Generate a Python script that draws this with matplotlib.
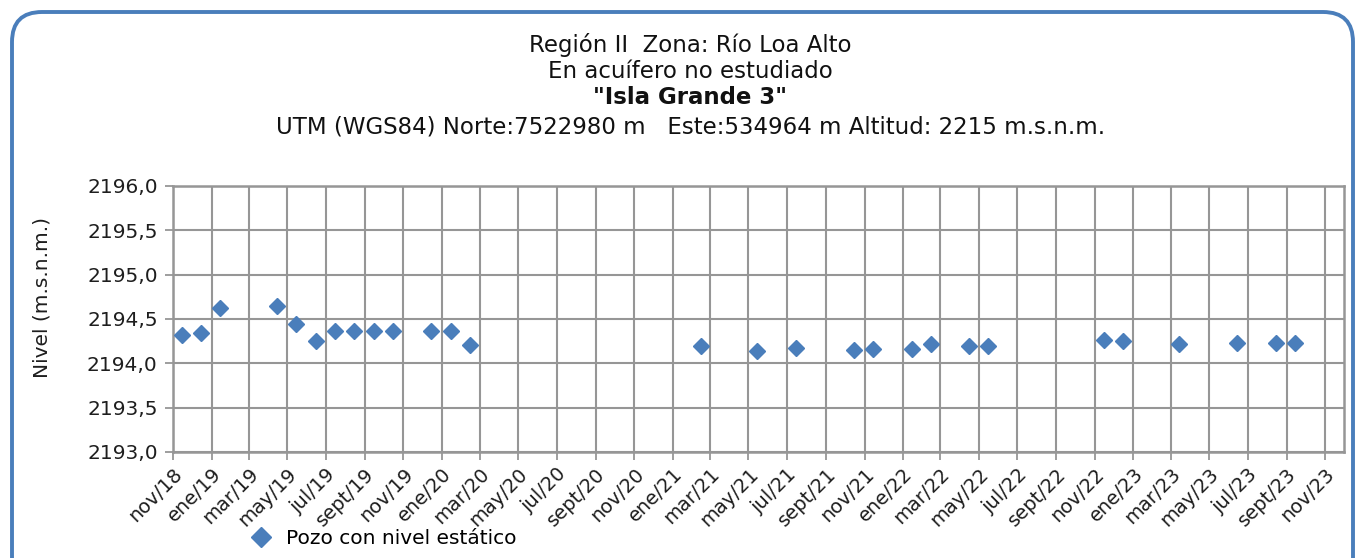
"""Nivel estático, pozo "Isla Grande 3" (Región II, Río Loa Alto)."""

import matplotlib

matplotlib.use("Agg")
import matplotlib.dates as mdates  # noqa: E402
import matplotlib.patches as mpatches  # noqa: E402
import matplotlib.pyplot as plt  # noqa: E402

FECHAS = [
    "2018-11-15", "2018-12-15", "2019-01-15", "2019-04-15", "2019-05-15",
    "2019-06-15", "2019-07-15", "2019-08-15", "2019-09-15", "2019-10-15",
    "2019-12-15", "2020-01-15", "2020-02-15", "2021-02-15", "2021-05-15",
    "2021-07-15", "2021-10-15", "2021-11-15", "2022-01-15", "2022-02-15",
    "2022-04-15", "2022-05-15", "2022-11-15", "2022-12-15", "2023-03-15",
    "2023-06-15", "2023-08-15", "2023-09-15",
]
NIVEL = [
    2194.32, 2194.34, 2194.62, 2194.65, 2194.44,
    2194.25, 2194.36, 2194.37, 2194.36, 2194.36,
    2194.37, 2194.36, 2194.21, 2194.20, 2194.14,
    2194.17, 2194.15, 2194.16, 2194.16, 2194.22,
    2194.20, 2194.20, 2194.26, 2194.25, 2194.22,
    2194.23, 2194.23, 2194.23,
]
TICK_FECHAS = [
    "2018-11-01", "2019-01-01", "2019-03-01", "2019-05-01", "2019-07-01",
    "2019-09-01", "2019-11-01", "2020-01-01", "2020-03-01", "2020-05-01",
    "2020-07-01", "2020-09-01", "2020-11-01", "2021-01-01", "2021-03-01",
    "2021-05-01", "2021-07-01", "2021-09-01", "2021-11-01", "2022-01-01",
    "2022-03-01", "2022-05-01", "2022-07-01", "2022-09-01", "2022-11-01",
    "2023-01-01", "2023-03-01", "2023-05-01", "2023-07-01", "2023-09-01",
    "2023-11-01",
]
TICK_LABELS = [
    "nov/18", "ene/19", "mar/19", "may/19", "jul/19", "sept/19", "nov/19",
    "ene/20", "mar/20", "may/20", "jul/20", "sept/20", "nov/20", "ene/21",
    "mar/21", "may/21", "jul/21", "sept/21", "nov/21", "ene/22", "mar/22",
    "may/22", "jul/22", "sept/22", "nov/22", "ene/23", "mar/23", "may/23",
    "jul/23", "sept/23", "nov/23",
]
Y_TICKS = [2193.0, 2193.5, 2194.0, 2194.5, 2195.0, 2195.5, 2196.0]
TITULO = [
    "Región II  Zona: Río Loa Alto",
    "En acuífero no estudiado",
    '"Isla Grande 3"',
    "UTM (WGS84) Norte:7522980 m   Este:534964 m Altitud: 2215 m.s.n.m.",
]

AZUL = "#4a7ebb"
GRIS = "#969696"
TXT = "#1e1e1e"

fig = plt.figure(figsize=(13.56, 5.58), dpi=100)

# marco redondeado exterior (en pulgadas)
fig.patches.append(
    mpatches.FancyBboxPatch(
        (0.12, -1.0), 13.41, 6.46,
        boxstyle="round,pad=0,rounding_size=0.3",
        transform=fig.dpi_scale_trans, fill=False, edgecolor=AZUL, lw=2.8,
    )
)

ax = fig.add_axes([0.1276, 0.19, 0.8636, 0.4767])
x = mdates.datestr2num(FECHAS)
ax.plot(x, NIVEL, ls="none", marker="D", ms=8.5, color=AZUL, mec=AZUL,
        label="Pozo con nivel estático", zorder=3)

ax.set_xlim(mdates.datestr2num("2018-11-01"), mdates.datestr2num("2023-12-01"))
ax.set_ylim(2193.0, 2196.0)
ax.set_xticks(mdates.datestr2num(TICK_FECHAS))
ax.set_xticklabels(TICK_LABELS, rotation=45, ha="right", rotation_mode="anchor",
                   fontsize=14, color=TXT)
ax.set_yticks(Y_TICKS)
ax.set_yticklabels([f"{v:.1f}".replace(".", ",") for v in Y_TICKS],
                   fontsize=14.5, color=TXT)
ax.tick_params(axis="both", length=6, width=1.3, color=GRIS, direction="out")
ax.tick_params(axis="x", pad=3)
ax.tick_params(axis="y", pad=5)
ax.grid(True, color=GRIS, lw=1.5)
ax.set_axisbelow(True)
for s in ax.spines.values():
    s.set_color(GRIS)
    s.set_linewidth(1.8)
ax.set_ylabel("Nivel (m.s.n.m.)", fontsize=14.5, color=TXT)
ax.yaxis.set_label_coords(-0.104, 0.58)

for ypx, txt in zip([45, 72, 98, 127], TITULO):
    fig.text(0.509, 1 - ypx / 558, txt, ha="center", va="center",
             fontsize=16.5,
             fontweight="bold" if txt.startswith('"') else "normal",
             color="#111")

fig.legend(loc="lower left", bbox_to_anchor=(0.168, -0.014), frameon=False,
           fontsize=14.5, handletextpad=0.5, markerscale=1.15, handlelength=1.5)

fig.savefig("out.png", dpi=100)
